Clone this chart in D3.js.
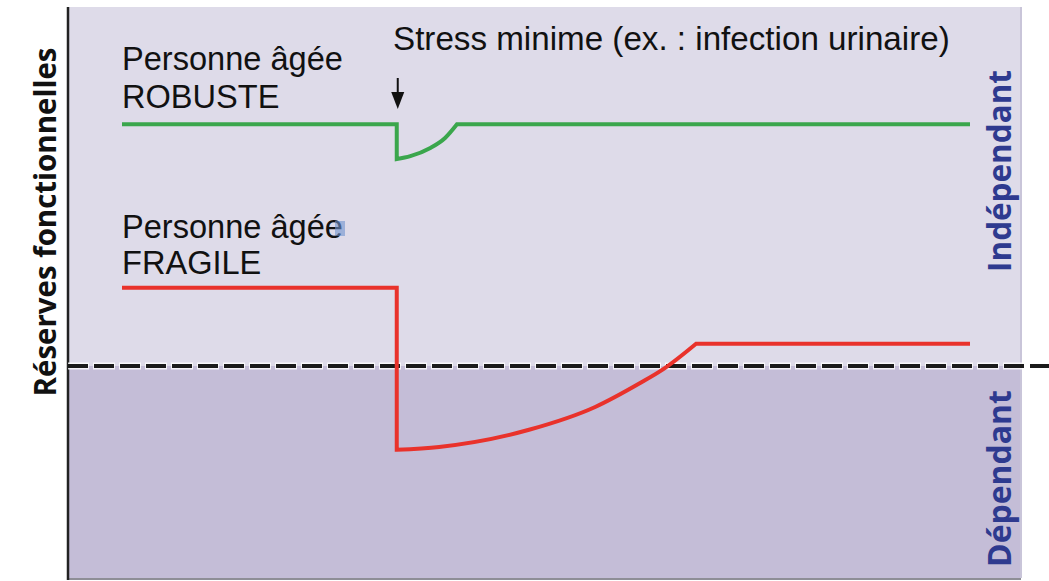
<!DOCTYPE html>
<html><head><meta charset="utf-8">
<script src="https://cdn.jsdelivr.net/npm/d3@7"></script>
<style>html,body{margin:0;padding:0;background:#fff;}svg{display:block;}</style>
</head><body>
<script>
// ---- data ----
const xDomain = [0, 100];          // time (arbitrary units)
const yDomain = [0, 100];          // functional reserves (arbitrary units)
const threshold = 37.2;            // dependence threshold
const stressTime = 32.4;

const robustBefore = [[0, 79.6], [32.4, 79.6], [32.4, 73.5]];
const robustRecovery = [[32.4, 73.5], [34.0, 74.0], [36.3, 75.4], [38.1, 77.2], [39.5, 79.6]];
const robustAfter = [[39.5, 79.6], [100, 79.6]];

const fragileBefore = [[0, 50.9], [32.4, 50.9], [32.4, 22.5]];
const fragileRecovery = [[32.4, 22.5], [37.4, 23.0], [48.0, 26.0], [55.8, 30.0], [61.1, 34.2], [63.7, 36.5], [67.7, 41.1]];
const fragileAfter = [[67.7, 41.1], [100, 41.1]];

const labels = {
  robust: ["Personne âgée", "ROBUSTE"],
  fragile: ["Personne âgée", "FRAGILE"],
  stress: "Stress minime (ex. : infection urinaire)",
  yTitle: "Réserves fonctionnelles",
  indep: "Indépendant",
  dep: "Dépendant"
};

// ---- layout ----
const W = 1049, H = 581;
const plot = {left: 68, right: 1021, top: 7, bottom: 578};
const x = d3.scaleLinear().domain(xDomain).range([122, 970]);
const y = d3.scaleLinear().domain(yDomain).range([578, 8]);

const svg = d3.select("body").append("svg").attr("width", W).attr("height", H);
const font = "'Open Sans', sans-serif";
const labelFont = "'Liberation Sans', Arial, sans-serif";

// backgrounds
svg.append("rect").attr("x", plot.left).attr("y", plot.top)
  .attr("width", plot.right - plot.left).attr("height", y(threshold) - plot.top)
  .attr("fill", "#dedbe9");
svg.append("rect").attr("x", plot.left).attr("y", y(threshold))
  .attr("width", plot.right - plot.left).attr("height", plot.bottom - y(threshold))
  .attr("fill", "#c4bdd7");
// right & bottom frame
svg.append("line").attr("x1", plot.right).attr("x2", plot.right).attr("y1", plot.top).attr("y2", plot.bottom)
  .attr("stroke", "#c9c5d9").attr("stroke-width", 2);
svg.append("line").attr("x1", plot.left).attr("x2", plot.right).attr("y1", plot.bottom + 1).attr("y2", plot.bottom + 1)
  .attr("stroke", "#8e8e96").attr("stroke-width", 2);
// left axis
svg.append("line").attr("x1", plot.left).attr("x2", plot.left).attr("y1", plot.top).attr("y2", plot.bottom + 2)
  .attr("stroke", "#222").attr("stroke-width", 2.5);

// threshold dashed line
svg.append("line").attr("x1", plot.left).attr("x2", W).attr("y1", y(threshold)).attr("y2", y(threshold))
  .attr("stroke", "#fff").attr("stroke-width", 7).attr("stroke-dasharray", "22 4").attr("stroke-dashoffset", 1).attr("opacity", 0.8);
svg.append("line").attr("x1", plot.left).attr("x2", W).attr("y1", y(threshold)).attr("y2", y(threshold))
  .attr("stroke", "#1a1a1a").attr("stroke-width", 4).attr("stroke-dasharray", "20 6");

// series
const lin = d3.line().x(d => x(d[0])).y(d => y(d[1]));
const smooth = d3.line().x(d => x(d[0])).y(d => y(d[1])).curve(d3.curveMonotoneX);
function seriesPath(a, b, c) {
  return lin(a) + smooth(b).replace(/^M/, "L") + lin(c).replace(/^M/, "L");
}
svg.append("path").attr("d", seriesPath(robustBefore, robustRecovery, robustAfter))
  .attr("fill", "none").attr("stroke", "#3aa64c").attr("stroke-width", 4).attr("stroke-linejoin", "miter");
svg.append("path").attr("d", seriesPath(fragileBefore, fragileRecovery, fragileAfter))
  .attr("fill", "none").attr("stroke", "#e9322b").attr("stroke-width", 4).attr("stroke-linejoin", "miter");

// stress arrow
const ax = x(stressTime) + 1;
svg.append("line").attr("x1", ax).attr("x2", ax).attr("y1", 78).attr("y2", 96)
  .attr("stroke", "#111").attr("stroke-width", 2);
svg.append("path").attr("d", `M${ax - 6.5},92 L${ax + 6.5},92 L${ax},109 Z`).attr("fill", "#111");

// texts (font size fitted to a target width)
function txt(t, px, py, size, targetW, opts = {}) {
  const el = svg.append("text").attr("x", px).attr("y", py).text(t)
    .attr("font-family", opts.family || font).attr("font-size", size)
    .attr("font-weight", opts.weight || "normal").attr("fill", opts.fill || "#111")
    .attr("text-anchor", opts.anchor || "start");
  if (targetW) {
    const w = el.node().getComputedTextLength();
    el.attr("font-size", size * targetW / w);
  }
  return el;
}
const p1 = txt(labels.robust[0], 122, 70, 30, 221, {family: labelFont});
const fs = +p1.attr("font-size");
txt(labels.robust[1], 122, 108, fs, null, {family: labelFont});
txt(labels.fragile[0], 122, 238, fs, null, {family: labelFont});
svg.append("rect").attr("x", 335).attr("y", 221).attr("width", 10).attr("height", 15).attr("fill", "#6f93cf").attr("opacity", 0.6);
txt(labels.fragile[1], 122, 274, fs, null, {family: labelFont});
txt(labels.stress, 393, 50, 30, 557, {family: labelFont});

txt(labels.yTitle, 0, 0, 28, 349, {weight: "bold", anchor: "middle"})
  .attr("transform", "translate(56,222) rotate(-90)");
txt(labels.indep, 0, 0, 27, 202, {weight: "bold", anchor: "middle", fill: "#2e3a8f"})
  .attr("transform", `translate(1011,${(70 + 272) / 2}) rotate(-90)`);
txt(labels.dep, 0, 0, 27, 177, {weight: "bold", anchor: "middle", fill: "#2e3a8f"})
  .attr("transform", `translate(1011,${(390 + 567) / 2}) rotate(-90)`);
</script>
</body></html>
